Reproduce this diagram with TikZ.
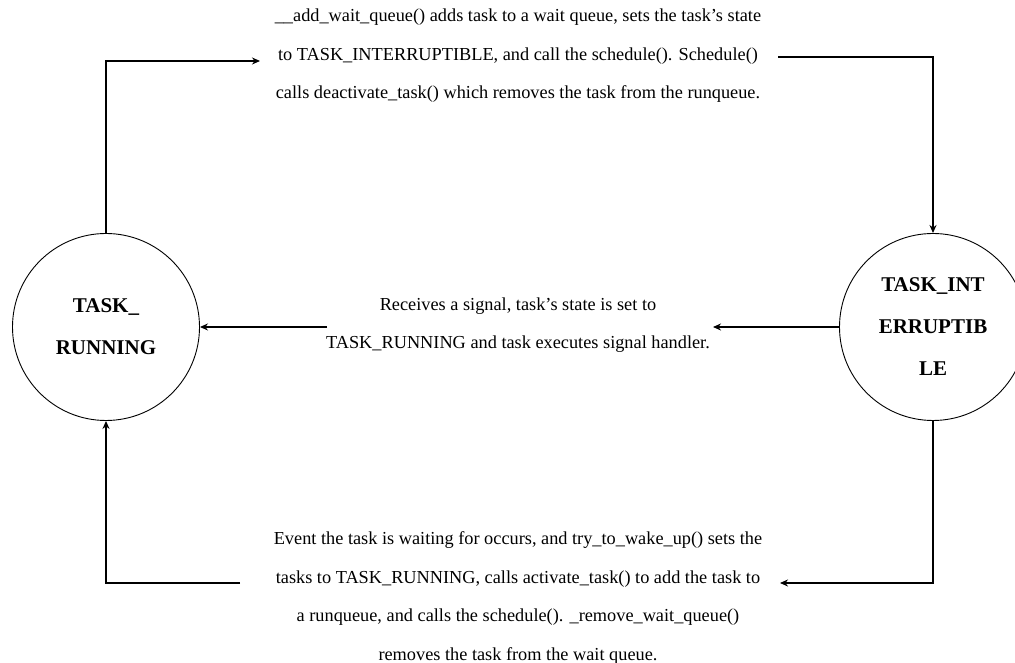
\documentclass[tikz,border=0pt]{standalone}
\usepackage{fontspec}
\setmainfont{Liberation Serif}
\usetikzlibrary{arrows.meta}
\begin{document}
\begin{tikzpicture}[x=1pt,y=1pt,
  state/.style={circle,draw,line width=0.9pt,minimum size=187pt,inner sep=0pt,
    align=center,font=\fontsize{21}{42}\selectfont\bfseries},
  label/.style={align=center,inner sep=0pt,font=\fontsize{18.3}{38.5}\selectfont},
  conn/.style={line width=1.6pt,-{Stealth[length=8pt,width=7pt]}}]
\useasboundingbox (0,0) rectangle (1015,663);

% states
\node[state] (run) at (106,336) {TASK\_\\RUNNING};
\node[state] (int) at (933,336) {TASK\_INT\\ERRUPTIB\\LE};

% transition texts
\node[label] (ttop) at (518,607) {\_\_add\_wait\_queue() adds task to a wait queue, sets the task’s state\\
  to TASK\_INTERRUPTIBLE, and call the schedule(). Schedule()\\
  calls deactivate\_task() which removes the task from the runqueue.};
\node[label] (tmid) at (518,338) {Receives a signal, task’s state is set to\\
  TASK\_RUNNING and task executes signal handler.};
\node[label] (tbot) at (518,65) {Event the task is waiting for occurs, and try\_to\_wake\_up() sets the\\
  tasks to TASK\_RUNNING, calls activate\_task() to add the task to\\
  a runqueue, and calls the schedule(). \_remove\_wait\_queue()\\
  removes the task from the wait queue.};

% connector ends beside the texts
\coordinate (a1) at (260,602);
\coordinate (a2) at (778,606);
\coordinate (b1) at (327,336);
\coordinate (b2) at (713,336);
\coordinate (c1) at (780,80);
\coordinate (c2) at (240,80);

% top: running -> interruptible
\draw[conn] (run.north) |- (a1);
\draw[conn] (a2) -| (int.north);

% middle: interruptible -> running on signal
\draw[conn] (int.west) -- (b2);
\draw[conn] (b1) -- (run.east);

% bottom: interruptible -> running on wake up
\draw[conn] (int.south) |- (c1);
\draw[conn] (c2) -| (run.south);
\end{tikzpicture}
\end{document}
